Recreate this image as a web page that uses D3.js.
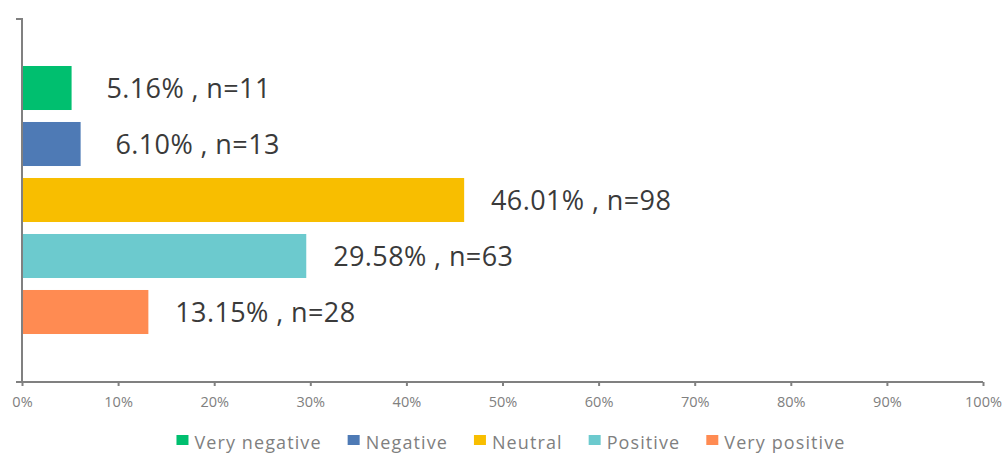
<!DOCTYPE html>
<html><head><meta charset="utf-8">
<script src="https://cdn.jsdelivr.net/npm/d3@7"></script>
<style>body{margin:0;background:#fff}svg{display:block}</style>
</head><body><svg id="c" width="1005" height="454"></svg>
<script>
const categories = ["Very negative","Negative","Neutral","Positive","Very positive"];
const percents = [5.16, 6.10, 46.01, 29.58, 13.15];
const counts = [11, 13, 98, 63, 28];
const colors = ["#00BF6F","#4E7AB5","#F8BE00","#6CCACE","#FF8B52"];
const tickValues = [0,10,20,30,40,50,60,70,80,90,100];

const svg = d3.select("#c");
const font = "'Open Sans', sans-serif";
const x = d3.scaleLinear().domain([0,100]).range([22,983]);
const y = d3.scaleBand().domain(categories).range([60,340]).paddingInner(0.214).paddingOuter(0.107);

// bars
svg.selectAll("rect.bar").data(categories).join("rect").attr("class","bar")
  .attr("x", x(0)).attr("y", d=>y(d))
  .attr("width", (d,i)=>x(percents[i])-x(0)).attr("height", y.bandwidth())
  .attr("fill",(d,i)=>colors[i]);

// labels
svg.selectAll("text.lab").data(categories).join("text").attr("class","lab")
  .attr("x",(d,i)=>x(percents[i])+117).attr("y",d=>y(d)+y.bandwidth()/2+10)
  .attr("text-anchor","middle")
  .attr("font-family",font).attr("font-size",27).attr("letter-spacing",0.4).attr("fill","#3a3a3a")
  .text((d,i)=>percents[i].toFixed(2)+"% , n="+counts[i]);

// x axis
const xAxis = d3.axisBottom(x).tickValues(tickValues).tickFormat(d=>d+"%").tickSize(4).tickPadding(11);
const gx = svg.append("g").attr("transform","translate(0,382)").call(xAxis);
gx.select(".domain").attr("stroke","#808080").attr("stroke-width",2).attr("d","M16,0H983");
gx.selectAll(".tick line").attr("stroke","#808080").attr("stroke-width",2);
gx.selectAll(".tick text").attr("font-family",font).attr("font-size",14.5).attr("fill","#808080");

// y axis line
svg.append("path").attr("d","M16,19H22V382").attr("fill","none").attr("stroke","#808080").attr("stroke-width",2);

// legend
const lg = svg.append("g");
let cx = 0;
categories.forEach((c,i)=>{
  const g = lg.append("g").attr("transform",`translate(${cx},0)`);
  g.append("rect").attr("x",0).attr("y",-8).attr("width",12).attr("height",10).attr("fill",colors[i]);
  const t = g.append("text").attr("x",18).attr("y",6).attr("font-family",font).attr("font-size",18)
    .attr("letter-spacing",1.1).attr("fill","#7f7f7f").text(c);
  cx += 18 + t.node().getComputedTextLength() + 26;
});
const total = cx - 26;
lg.attr("transform",`translate(${511-total/2},443)`);
</script></body></html>
